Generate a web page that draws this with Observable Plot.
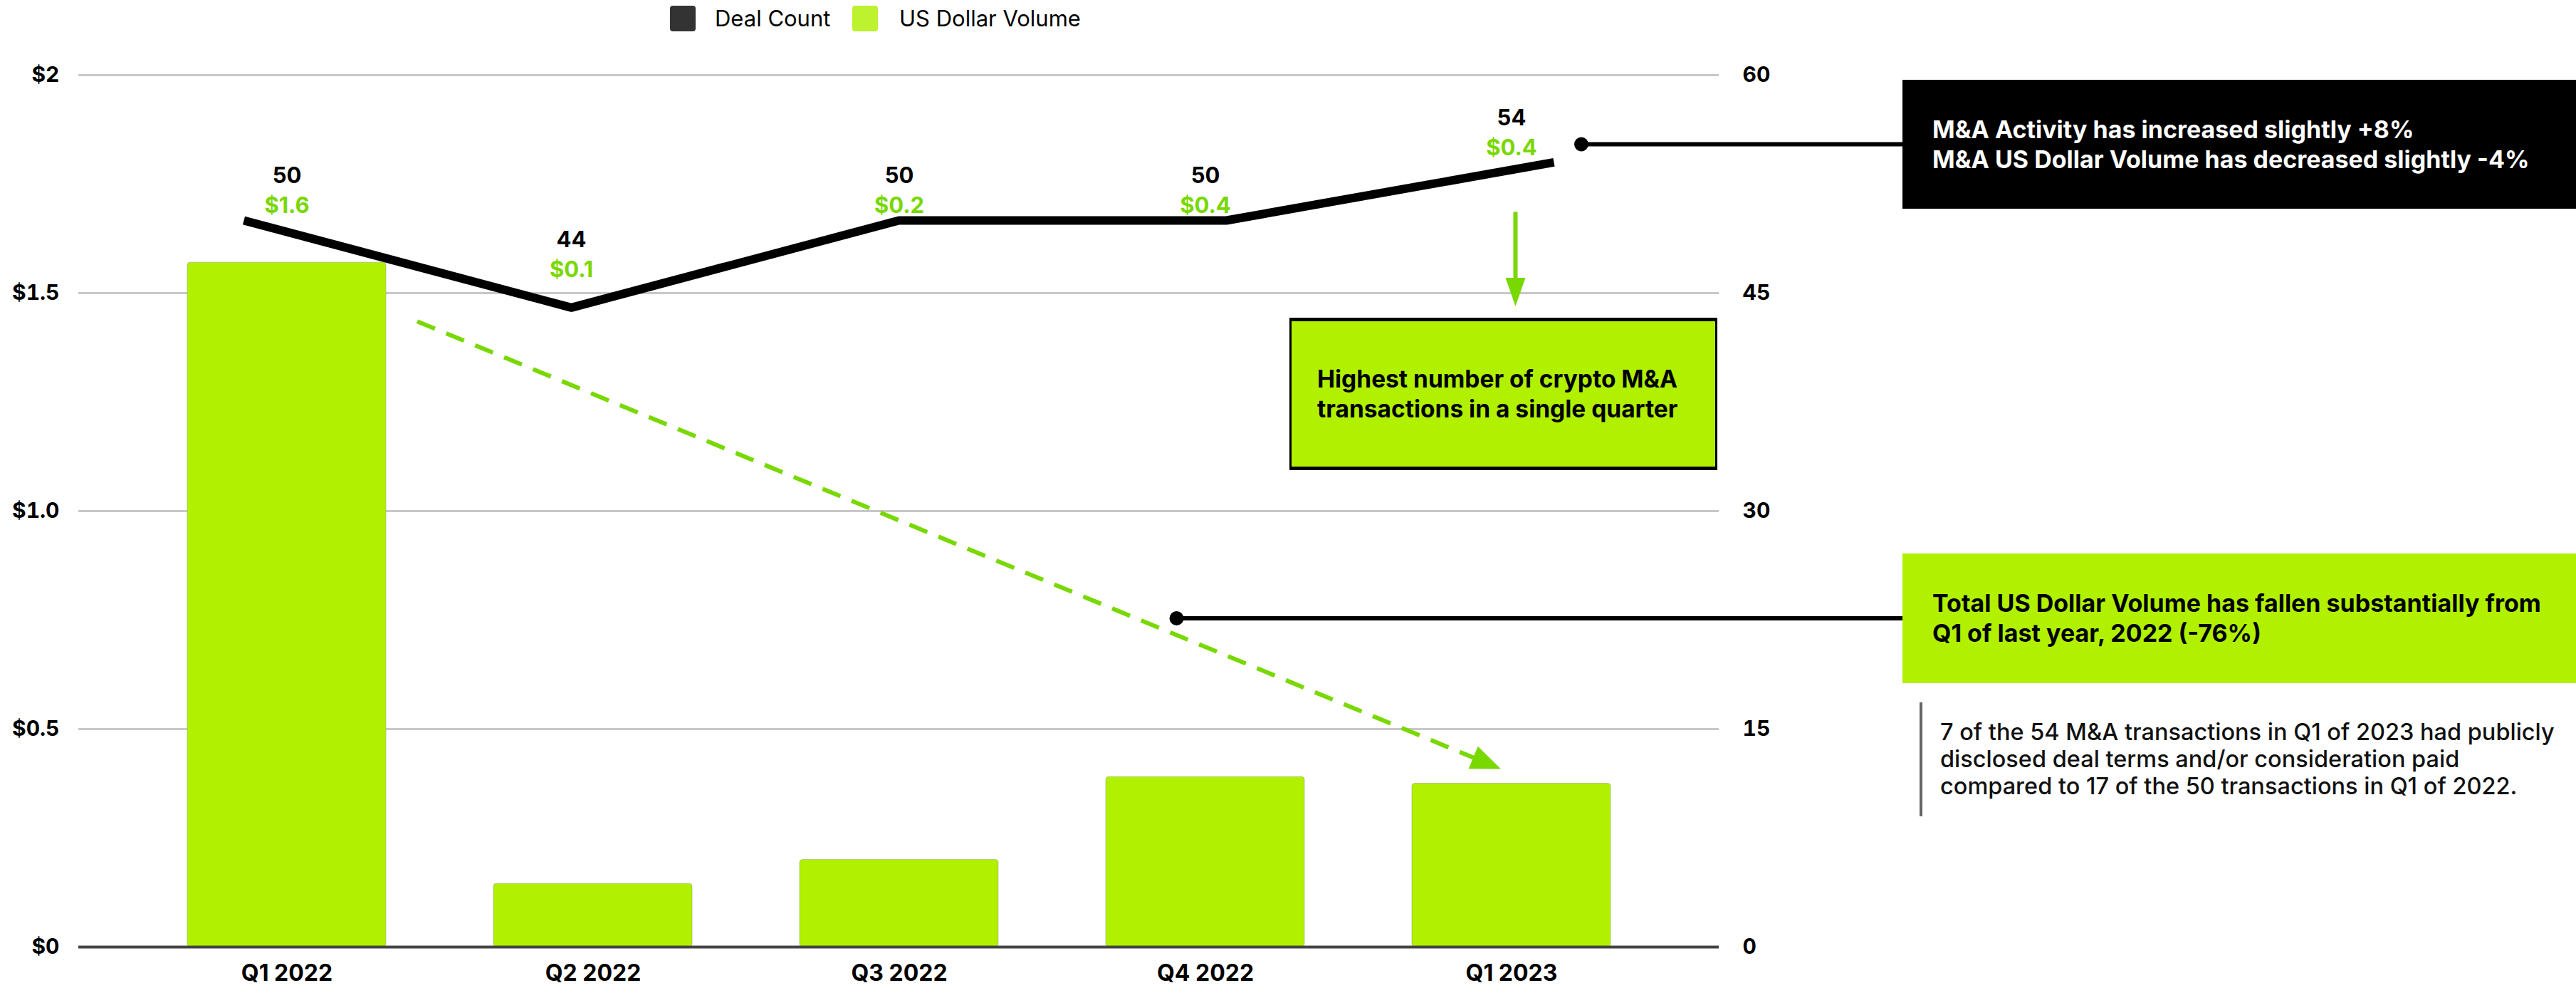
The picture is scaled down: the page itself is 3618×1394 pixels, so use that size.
<!DOCTYPE html>
<html>
<head>
<meta charset="utf-8">
<script src="https://cdn.jsdelivr.net/npm/d3@7"></script>
<script src="https://cdn.jsdelivr.net/npm/@observablehq/plot@0.6"></script>
<style>
  html, body { margin: 0; padding: 0; background: #fff; }
  #root { position: relative; width: 3618px; height: 1394px; overflow: hidden; font-family: Inter, "Noto Sans", sans-serif; color: #000; }
  .layer { position: absolute; left: 0; top: 0; }
  .box { position: absolute; box-sizing: border-box; display: flex; align-items: center; font-weight: 700; font-size: 34px; line-height: 42px; white-space: nowrap; }
  #legend { position: absolute; left: 0; top: 8px; height: 36px; width: 3618px; font-size: 31px; font-weight: 400; }
  #legend .sw { position: absolute; top: 0; width: 36px; height: 36px; border-radius: 4px; }
  #legend .lt { position: absolute; top: 0; line-height: 36px; white-space: nowrap; }
</style>
</head>
<body>
<div id="root"></div>
<script>
// ---------------- data ----------------
const quarters = ["Q1 2022", "Q2 2022", "Q3 2022", "Q4 2022", "Q1 2023"];
const dollarVolume = [1.57, 0.145, 0.2, 0.39, 0.375];          // US$ billions
const dollarLabels = ["$1.6", "$0.1", "$0.2", "$0.4", "$0.4"];
const dealCount = [50, 44, 50, 50, 54];
const dollarTicks = [0, 0.5, 1, 1.5, 2];
const dollarTickLabels = ["$0", "$0.5", "$1.0", "$1.5", "$2"];
const countTicks = [0, 15, 30, 45, 60];
const dollarDomain = [0, 2];
const countDomain = [0, 60];
const seriesNames = ["Deal Count", "US Dollar Volume"];

const last = quarters.length - 1;
const table = quarters.map((q, i) => ({
  quarter: q, volume: dollarVolume[i], volumeLabel: dollarLabels[i], count: dealCount[i],
  // a local minimum of the deal-count line gets its labels right above the line vertex
  dip: i > 0 && i < last && dealCount[i] < dealCount[i - 1] && dealCount[i] < dealCount[i + 1]
}));

// ---------------- style ----------------
const W = 3618, H = 1394;
const M = { left: 110, right: 1204, top: 105, bottom: 65 };
const BAR = "#b1f100", GREEN = "#78d800", LEGEND_GREEN = "#bdf22e";
const FONT = "Inter, 'Noto Sans', sans-serif";

const root = document.getElementById("root");

// Plot A: bars, dollar axis, quarter axis, value labels
const plotA = Plot.plot({
  width: W, height: H,
  marginLeft: M.left, marginRight: M.right, marginTop: M.top, marginBottom: M.bottom,
  style: { fontFamily: FONT, fontSize: "30px", fontWeight: 700, color: "#000", background: "none", overflow: "visible" },
  x: { domain: quarters, padding: 0.352, label: null },
  y: { domain: dollarDomain, label: null },
  marks: [
    Plot.gridY(dollarTicks, { stroke: "#c8c8c8", strokeOpacity: 1, strokeWidth: 3 }),
    Plot.barY(table, { x: "quarter", y: "volume", fill: BAR, rx: 4, stroke: "#9aa88a", strokeWidth: 1, strokeOpacity: 0.6 }),
    Plot.ruleY([0], { stroke: "#444", strokeWidth: 4 }),
    Plot.axisY(dollarTicks, { tickSize: 0, tickPadding: 27, label: null, fontSize: 30, fontWeight: 700,
      tickFormat: d => dollarTickLabels[dollarTicks.indexOf(d)] }),
    Plot.axisX({ tickSize: 0, tickPadding: 25, label: null, fontSize: 32, fontWeight: 700 }),
    Plot.text(table, { filter: d => !d.dip, x: "quarter", y: d => d.count * dollarDomain[1] / countDomain[1], text: d => String(d.count),
      dy: -62, fontSize: 31, fontWeight: 700, fill: "#000" }),
    Plot.text(table, { filter: d => !d.dip, x: "quarter", y: d => d.count * dollarDomain[1] / countDomain[1], text: "volumeLabel",
      dy: -20, fontSize: 31, fontWeight: 700, fill: GREEN })
  ]
});
plotA.classList.add("layer");
root.appendChild(plotA);

// Plot B: deal count line and right axis
const plotB = Plot.plot({
  width: W, height: H,
  marginLeft: M.left, marginRight: M.right, marginTop: M.top, marginBottom: M.bottom,
  style: { fontFamily: FONT, fontSize: "30px", fontWeight: 700, color: "#000", background: "none", overflow: "visible" },
  x: { type: "point", domain: quarters, padding: 0.5, axis: null },
  y: { domain: countDomain, label: null },
  marks: [
    Plot.line(table, { x: "quarter", y: "count", stroke: "#000", strokeWidth: 12, strokeLinejoin: "miter", strokeLinecap: "butt" }),
    Plot.axisY(countTicks, { anchor: "right", tickSize: 0, tickPadding: 33, label: null, fontSize: 30, fontWeight: 700 }),
    Plot.text(table, { filter: d => d.dip, x: "quarter", y: "count", text: d => String(d.count),
      dy: -95, fontSize: 31, fontWeight: 700, fill: "#000" }),
    Plot.text(table, { filter: d => d.dip, x: "quarter", y: "count", text: "volumeLabel",
      dy: -53, fontSize: 31, fontWeight: 700, fill: GREEN })
  ]
});
plotB.classList.add("layer");
root.appendChild(plotB);

// scales for anchoring annotations
const xA = plotA.scale("x"), yA = plotA.scale("y");
const xB = plotB.scale("x"), yB = plotB.scale("y");
const bandCenter = q => xA.apply(q) + xA.bandwidth / 2;

// annotation layout (boxes)
const boxRight = { left: 2672, width: W - 2672 };
const blackBox = { top: 112, height: 181 };
const greenBox2 = { top: 777, height: 182 };
const greenBox1 = { left: 1811, top: 446, width: 601, height: 214 };

// overlay for connectors/arrows
const svg = d3.select(root).append("svg").attr("class", "layer").attr("width", W).attr("height", H);

// connector 1 (deal count -> black box)
{
  const y = blackBox.top + blackBox.height / 2;
  const x0 = xB.apply(quarters[last]) + 39;
  svg.append("line").attr("x1", x0).attr("x2", boxRight.left).attr("y1", y).attr("y2", y).attr("stroke", "#000").attr("stroke-width", 6);
  svg.append("circle").attr("cx", x0).attr("cy", y).attr("r", 10).attr("fill", "#000");
}
// connector 2 (volume -> green box)
{
  const y = greenBox2.top + greenBox2.height / 2;
  const x0 = bandCenter(quarters[3]) - 40;
  svg.append("line").attr("x1", x0).attr("x2", boxRight.left).attr("y1", y).attr("y2", y).attr("stroke", "#000").attr("stroke-width", 6);
  svg.append("circle").attr("cx", x0).attr("cy", y).attr("r", 10).attr("fill", "#000");
}
// down arrow to "Highest number" box
{
  const x = bandCenter(quarters[last]) + 6;
  const y1 = yB.apply(dealCount[last]) + 70;
  const tip = greenBox1.top - 16;
  const headLen = 40, headW = 14;
  svg.append("line").attr("x1", x).attr("x2", x).attr("y1", y1).attr("y2", tip - headLen + 2).attr("stroke", GREEN).attr("stroke-width", 6);
  svg.append("polygon").attr("points", `${x - headW},${tip - headLen} ${x + headW},${tip - headLen} ${x},${tip}`).attr("fill", GREEN);
}
// dashed trend arrow from Q1 2022 bar to Q1 2023 bar
{
  const x1 = xA.apply(quarters[0]) + xA.bandwidth + 44;
  const y1 = yA.apply(dollarVolume[0]) + 83;
  const x2 = xA.apply(quarters[last]) + 125;
  const y2 = yA.apply(dollarVolume[last]) - 20;
  const dx = x2 - x1, dy = y2 - y1, len = Math.hypot(dx, dy);
  const ux = dx / len, uy = dy / len;
  const headLen = 42, headW = 17;
  const bx = x2 - ux * headLen, by = y2 - uy * headLen;
  svg.append("line").attr("x1", x1).attr("y1", y1).attr("x2", bx + ux * 4).attr("y2", by + uy * 4)
    .attr("stroke", GREEN).attr("stroke-width", 6).attr("stroke-dasharray", "27 17");
  svg.append("polygon").attr("points",
    `${bx - uy * headW},${by + ux * headW} ${bx + uy * headW},${by - ux * headW} ${x2},${y2}`).attr("fill", GREEN);
}

// text boxes
function addBox(style, html) {
  const d = document.createElement("div");
  d.className = "box";
  Object.assign(d.style, style);
  d.innerHTML = `<div>${html}</div>`;
  root.appendChild(d);
  return d;
}
addBox({ left: boxRight.left + "px", top: blackBox.top + "px", width: boxRight.width + "px", height: blackBox.height + "px",
  background: "#000", color: "#fff", paddingLeft: "42px" },
  "M&amp;A Activity has increased slightly +8%<br>M&amp;A US Dollar Volume has decreased slightly -4%");
addBox({ left: boxRight.left + "px", top: greenBox2.top + "px", width: boxRight.width + "px", height: greenBox2.height + "px",
  background: BAR, color: "#000", paddingLeft: "42px" },
  "Total US Dollar Volume has fallen substantially from<br>Q1 of last year, 2022 (-76%)");
addBox({ left: greenBox1.left + "px", top: greenBox1.top + "px", width: greenBox1.width + "px", height: greenBox1.height + "px",
  background: BAR, color: "#000", paddingLeft: "36px", borderTop: "5px solid #000", borderBottom: "5px solid #000",
  borderLeft: "3px solid #000", borderRight: "3px solid #000", fontSize: "33.5px" },
  "Highest number of crypto M&amp;A<br>transactions in a single quarter");
addBox({ left: "2696px", top: "986px", width: "922px", height: "160px", borderLeft: "4px solid #666",
  paddingLeft: "25px", fontWeight: 500, fontSize: "32.5px", lineHeight: "38px", color: "#111" },
  "7 of the 54 M&amp;A transactions in Q1 of 2023 had publicly<br>disclosed deal terms and/or consideration paid<br>compared to 17 of the 50 transactions in Q1 of 2022.");

// legend
const legend = document.createElement("div");
legend.id = "legend";
legend.innerHTML =
  `<div class="sw" style="left:941px;background:#333"></div><span class="lt" style="left:1004px">${seriesNames[0]}</span>` +
  `<div class="sw" style="left:1197px;background:${LEGEND_GREEN}"></div><span class="lt" style="left:1263px">${seriesNames[1]}</span>`;
root.appendChild(legend);
</script>
</body>
</html>
